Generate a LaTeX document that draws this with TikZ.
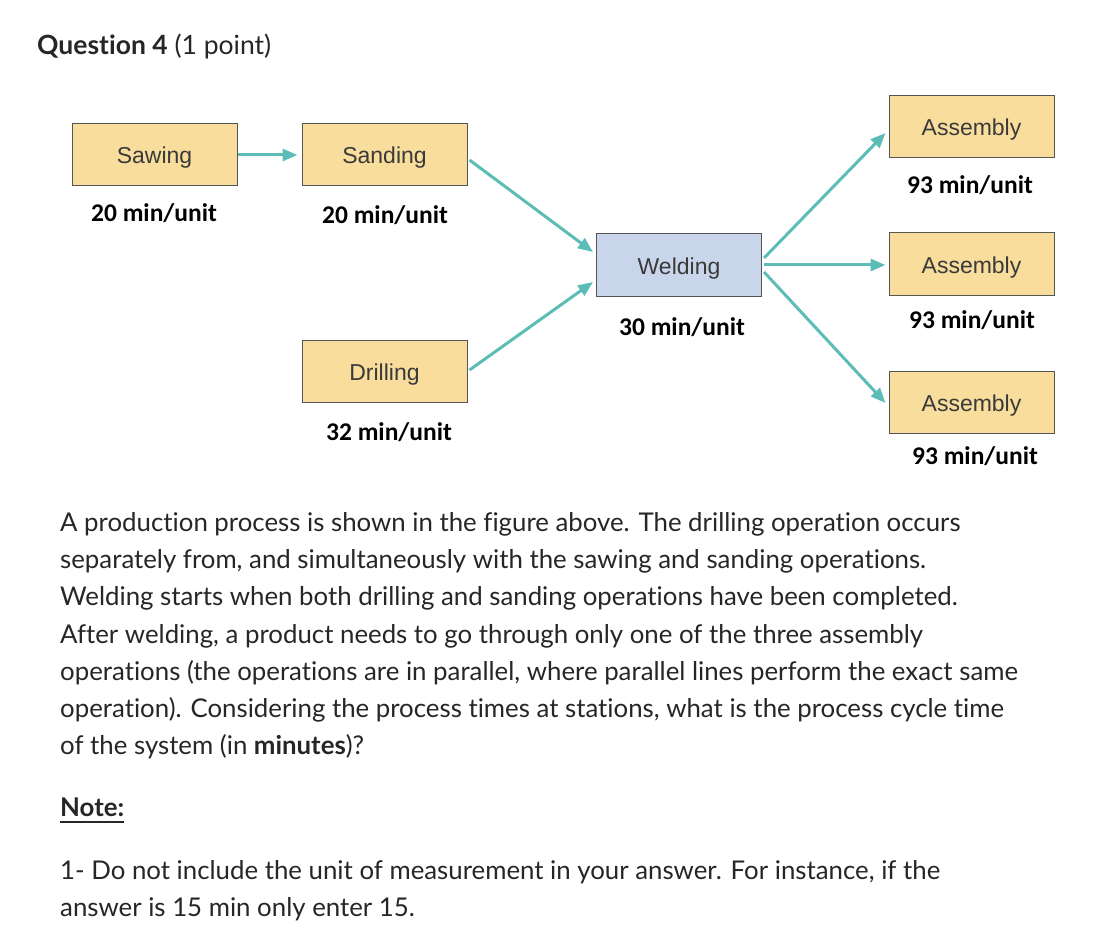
\documentclass[tikz,border=0pt]{standalone}
\usepackage{fontspec}
\setmainfont[Ligatures=NoCommon]{Lato}
\newfontfamily\boxfont{Liberation Sans}
\newfontfamily\calfont{Carlito}
\usetikzlibrary{arrows.meta,calc}
\definecolor{teal1}{HTML}{5BBDB5}
\definecolor{boxyel}{HTML}{F8DD9C}
\definecolor{boxblue}{HTML}{C9D5EA}
\definecolor{boxline}{HTML}{555555}
\definecolor{txt}{HTML}{262626}
\definecolor{boxtxt}{HTML}{3A3A3A}
\tikzset{
  stepbox/.style={draw=boxline, line width=1pt, fill=boxyel, minimum width=165pt, minimum height=62pt, inner sep=0pt, text height=20pt, text depth=2pt, font=\boxfont\fontsize{23}{26}\selectfont, text=boxtxt},
  weldbox/.style={stepbox, fill=boxblue},
  rate/.style={font=\calfont\bfseries\fontsize{25.5}{28}\selectfont, text=black, inner sep=0pt},
  flow/.style={draw=teal1, line width=3pt, -{Triangle[length=15pt,width=12pt]}},
  body/.style={anchor=base west, inner sep=0pt, font=\fontsize{25.8}{30}\selectfont, text=txt},
}
\begin{document}
\begin{tikzpicture}[x=1pt,y=-1pt]
\useasboundingbox (0,0) rectangle (1106,928);
\node[anchor=base west, inner sep=0pt, font=\fontsize{26.5}{30}\selectfont, text=txt] (title) at (37,55) {\textbf{Question 4} (1 point)};

\node[stepbox] (saw) at (154.5,155) {Sawing};
\node[stepbox] (sand) at (384.5,155) {Sanding};
\node[stepbox] (drill) at (384.5,371) {Drilling};
\node[weldbox] (weld) at (679,265) {Welding};
\node[stepbox] (a1) at (971.5,127) {Assembly};
\node[stepbox] (a2) at (971.5,264) {Assembly};
\node[stepbox] (a3) at (971.5,402) {Assembly};

\node[rate] (r1) at (154,213) {20 min/unit};
\node[rate] (r2) at (385,215) {20 min/unit};
\node[rate] (r3) at (682,327) {30 min/unit};
\node[rate] (r4) at (389,432) {32 min/unit};
\node[rate] (r5) at (970,185) {93 min/unit};
\node[rate] (r6) at (972,320) {93 min/unit};
\node[rate] (r7) at (975,456) {93 min/unit};

\draw[flow, shorten >=4pt] (saw.east) -- (sand.west);
\draw[flow] ([xshift=2pt,yshift=-5pt]sand.east) -- ([xshift=-3pt,yshift=13pt]weld.west);
\draw[flow] ([xshift=2pt,yshift=1pt]drill.east) -- ([xshift=-3pt,yshift=-17pt]weld.west);
\draw[flow] ([xshift=2pt,yshift=7pt]weld.east) -- ([xshift=-3pt,yshift=-6pt]a1.west);
\draw[flow, shorten >=3pt] ([xshift=2pt]weld.east) -- ([yshift=-1pt]a2.west);
\draw[flow] ([xshift=2pt,yshift=-7pt]weld.east) -- ([xshift=-3pt,yshift=-1pt]a3.west);

\node[body] (l1) at (60,531) {A production process is shown in the figure above. The drilling operation occurs};
\node[body] (l2) at (60,568) {separately from, and simultaneously with the sawing and sanding operations.};
\node[body] (l3) at (60,605) {Welding starts when both drilling and sanding operations have been completed.};
\node[body] (l4) at (60,643) {After welding, a product needs to go through only one of the three assembly};
\node[body] (l5) at (60,680) {operations (the operations are in parallel, where parallel lines perform the exact same};
\node[body] (l6) at (60,717) {operation). Considering the process times at stations, what is the process cycle time};
\node[body] (l7) at (60,754) {of the system (in \textbf{minutes})?};
\node[body] (note) at (60,816) {\textbf{Note:}};
\draw[txt, line width=1.8pt] ([yshift=-6pt]note.base west) -- ([yshift=-6pt]note.base east);
\node[body] (n1) at (60,879) {1- Do not include the unit of measurement in your answer. For instance, if the};
\node[body] (n2) at (60,916) {answer is 15 min only enter 15.};
\end{tikzpicture}
\end{document}
